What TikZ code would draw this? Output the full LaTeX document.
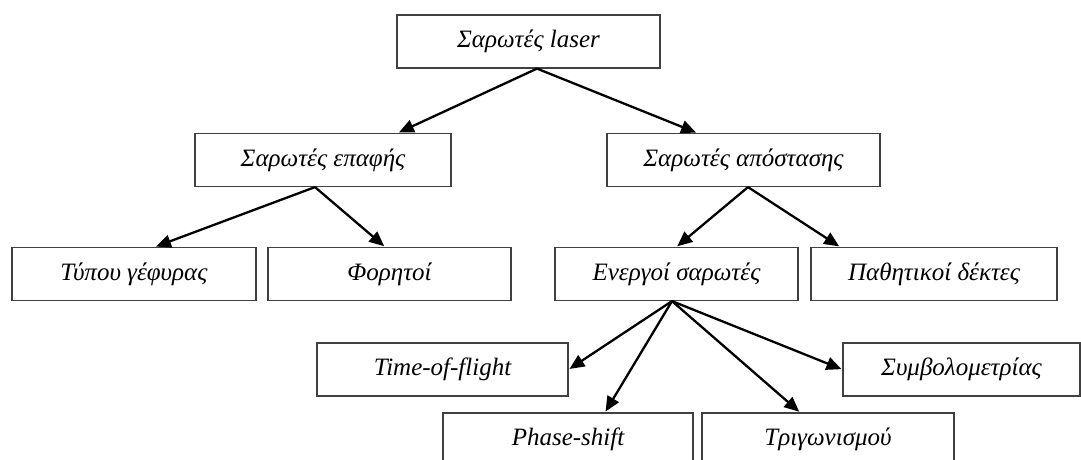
\documentclass[tikz,border=0pt]{standalone}
\usepackage{fontspec}
\setmainfont{Liberation Serif}
\usepackage{tikz}
\usetikzlibrary{arrows.meta, positioning}

\begin{document}
\begin{tikzpicture}[x=1pt, y=-1pt,
  box/.style={draw=black!75, line width=1.2pt, minimum height=53pt, inner sep=0pt,
    font=\fontsize{25}{30}\selectfont\itshape},
  link/.style={-{Triangle[length=15pt, width=13pt]}, line width=2.3pt, shorten >=1pt}]
\clip (0,0) rectangle (1081,459);
% top levels
\node[box, minimum width=263pt] (laser) at (528.5,41.5) {Σαρωτές laser};
\node[box, minimum width=256pt] (epafis) at (323,160) {Σαρωτές επαφής};
\node[box, minimum width=273pt] (apost) at (743.5,160) {Σαρωτές απόστασης};

\node[box, minimum width=244pt] (gefyra) at (134,274) {Τύπου γέφυρας};
\node[box, minimum width=243pt] (foritoi) at (389.5,274) {Φορητοί};
\node[box, minimum width=243pt] (energoi) at (676.5,274) {Ενεργοί σαρωτές};
\node[box, minimum width=246pt] (pathit) at (934,274) {Παθητικοί δέκτες};

% active scanners
\node[box, minimum width=251pt] (tof) at (442.5,369.5) {Time-of-flight};
\node[box, minimum width=237pt] (symv) at (961.5,369.5) {Συμβολομετρίας};
\node[box, minimum width=250pt] (phase) at (568,439.5) {Phase-shift};
\node[box, minimum width=252pt] (trigon) at (828,439.5) {Τριγωνισμού};

\draw[link] ([xshift=8.5pt]laser.south) -- ([xshift=75pt]epafis.north);
\draw[link] ([xshift=8.5pt]laser.south) -- ([xshift=-46.5pt]apost.north);

\draw[link] ([xshift=-8pt]epafis.south) -- ([xshift=21pt]gefyra.north);
\draw[link] ([xshift=-8pt]epafis.south) -- ([xshift=-4.5pt]foritoi.north);
\draw[link] ([xshift=4.5pt]apost.south) -- (energoi.north);
\draw[link] ([xshift=4.5pt]apost.south) -- ([xshift=-94pt]pathit.north);

\draw[link] ([xshift=-4.5pt]energoi.south) -- (tof.east);
\draw[link] ([xshift=-4.5pt]energoi.south) -- ([xshift=37pt]phase.north);
\draw[link] ([xshift=-4.5pt]energoi.south) -- ([xshift=-28pt]trigon.north);
\draw[link] ([xshift=-4.5pt]energoi.south) -- (symv.west);
\end{tikzpicture}
\end{document}
